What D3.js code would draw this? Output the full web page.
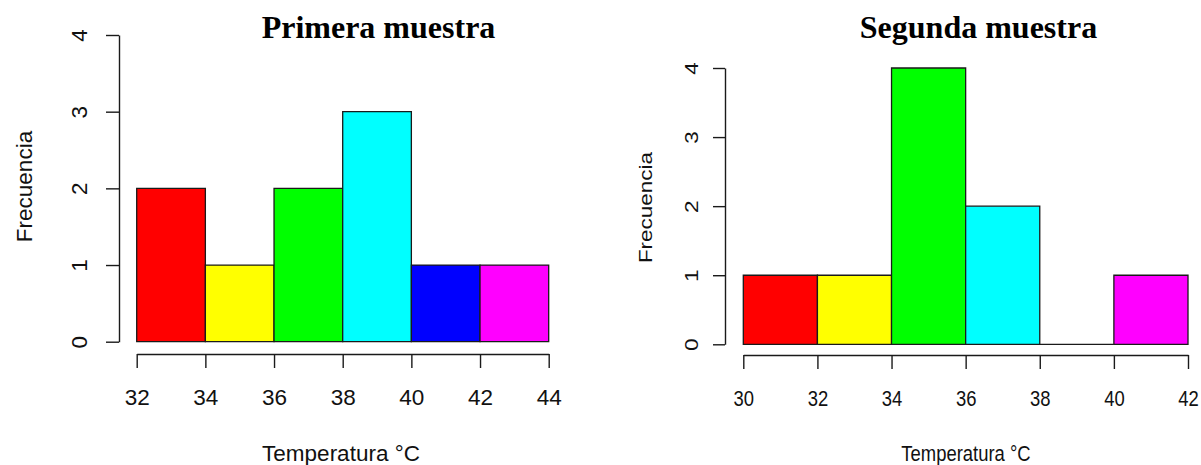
<!DOCTYPE html>
<html>
<head>
<meta charset="utf-8">
<script src="https://cdn.jsdelivr.net/npm/d3@7"></script>
<style>
  html, body { margin: 0; padding: 0; background: #fff; }
  svg { display: block; }
</style>
</head>
<body>
<svg id="chart" width="1201" height="465"></svg>
<script>
// Class boundaries (°C) and frequencies for each sample
const breaksPrimera = [32, 34, 36, 38, 40, 42, 44];
const countsPrimera = [2, 1, 2, 3, 1, 1];
const breaksSegunda = [30, 32, 34, 36, 38, 40, 42];
const countsSegunda = [1, 1, 4, 2, 0, 1];
const barColors = ["#FF0000", "#FFFF00", "#00FF00", "#00FFFF", "#0000FF", "#FF00FF"];
const yTicks = [0, 1, 2, 3, 4];
const titles = ["Primera muestra", "Segunda muestra"];
const xTitle = "Temperatura °C";
const yTitle = "Frecuencia";

const svg = d3.select("#chart");
const sans = "'Liberation Sans', Arial, sans-serif";
const serif = "'Liberation Serif', 'Times New Roman', serif";
const ink = "#111";

// Layout for each panel (pixel geometry only)
const panels = [
  {
    breaks: breaksPrimera, counts: countsPrimera, title: titles[0],
    xRange: [136.7, 548.7], yRange: [341.7, 35],
    yAxisX: 119, xAxisY: 354, tick: 13, sx: 1,
    yLabelOff: 32, titleX: 378.5, yTitlePos: [32, 186.5], xTitleX: 341
  },
  {
    breaks: breaksSegunda, counts: countsSegunda, title: titles[1],
    xRange: [743.3, 1188], yRange: [344.3, 68],
    yAxisX: 725, xAxisY: 355, tick: 12, sx: 0.82,
    yLabelOff: 27, titleX: 978.5, yTitlePos: [651.5, 207.5], xTitleX: 966
  }
];

panels.forEach(p => {
  const x = d3.scaleLinear()
    .domain([p.breaks[0], p.breaks[p.breaks.length - 1]])
    .range(p.xRange);
  const y = d3.scaleLinear().domain([0, 4]).range(p.yRange);

  const bins = p.counts.map((c, i) => ({ x0: p.breaks[i], x1: p.breaks[i + 1], n: c, color: barColors[i] }));

  // Bars as closed paths so that empty classes still show their outline
  svg.append("g").selectAll("path")
    .data(bins)
    .join("path")
    .attr("d", d => {
      const path = d3.path();
      path.moveTo(x(d.x0), y(0));
      path.lineTo(x(d.x1), y(0));
      path.lineTo(x(d.x1), y(d.n));
      path.lineTo(x(d.x0), y(d.n));
      path.closePath();
      return path.toString();
    })
    .attr("fill", d => d.color)
    .attr("stroke", "#1a1a1a")
    .attr("stroke-width", 1.3);

  // Y axis
  const gy = svg.append("g")
    .attr("transform", `translate(${p.yAxisX},0)`)
    .call(d3.axisLeft(y).tickValues(yTicks).tickSize(p.tick).tickSizeOuter(0).tickFormat(d3.format("d")));
  gy.selectAll("path, line").attr("stroke", "#1a1a1a").attr("stroke-width", 1.4);
  gy.selectAll("text")
    .attr("x", null).attr("dy", null)
    .attr("text-anchor", "middle")
    .attr("transform", `translate(${-p.yLabelOff},0) scale(${p.sx},1) rotate(-90)`)
    .attr("fill", ink)
    .style("font-family", sans)
    .style("font-size", "22.5px");

  // X axis
  const gx = svg.append("g")
    .attr("transform", `translate(0,${p.xAxisY})`)
    .call(d3.axisBottom(x).tickValues(p.breaks).tickSize(14).tickSizeOuter(0).tickFormat(d3.format("d")));
  gx.selectAll("path, line").attr("stroke", "#1a1a1a").attr("stroke-width", 1.4);
  gx.selectAll("text")
    .attr("y", null).attr("dy", null)
    .attr("text-anchor", "middle")
    .attr("transform", `translate(0,51) scale(${p.sx},1)`)
    .attr("fill", ink)
    .style("font-family", sans)
    .style("font-size", "22.5px");
  gx.attr("font-family", null).attr("font-size", null);
  gy.attr("font-family", null).attr("font-size", null);

  // Title
  svg.append("text")
    .attr("x", p.titleX).attr("y", 38)
    .attr("text-anchor", "middle")
    .style("font-family", serif)
    .style("font-weight", "bold")
    .style("font-size", "32px")
    .attr("fill", "#000")
    .text(p.title);

  // Axis titles
  svg.append("text")
    .attr("transform", `translate(${p.xTitleX},461) scale(${p.sx},1)`)
    .attr("text-anchor", "middle")
    .style("font-family", sans)
    .style("font-size", "22.5px")
    .attr("fill", ink)
    .text(xTitle);

  svg.append("text")
    .attr("transform", `translate(${p.yTitlePos[0]},${p.yTitlePos[1]}) scale(${p.sx},1) rotate(-90)`)
    .attr("text-anchor", "middle")
    .style("font-family", sans)
    .style("font-size", "22.5px")
    .attr("fill", ink)
    .text(yTitle);
});
</script>
</body>
</html>
